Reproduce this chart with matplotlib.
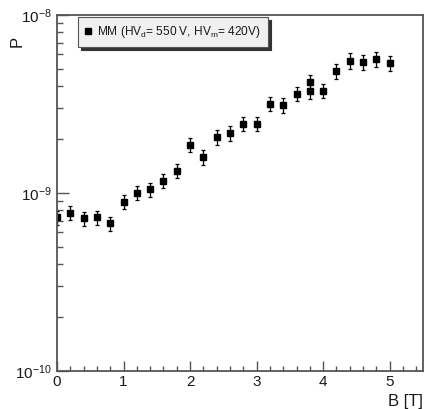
import math
import matplotlib
matplotlib.use("Agg")
import matplotlib.pyplot as plt
from matplotlib.lines import Line2D
from matplotlib.ticker import LogLocator, FuncFormatter, MultipleLocator, NullFormatter

plt.rcParams['font.family'] = ['Liberation Sans', 'DejaVu Sans']
plt.rcParams['mathtext.fontset'] = 'custom'
plt.rcParams['mathtext.rm'] = 'Liberation Sans'
plt.rcParams['mathtext.it'] = 'Liberation Sans'

# data (B in tesla, P probability)
B = [0.0, 0.2, 0.4, 0.6, 0.8, 1.0, 1.2, 1.4, 1.6, 1.8, 2.0, 2.2, 2.4, 2.6, 2.8,
     3.0, 3.2, 3.4, 3.6, 3.8, 3.8, 4.0, 4.2, 4.4, 4.6, 4.8, 5.0]
P = [7.3e-10, 7.75e-10, 7.2e-10, 7.3e-10, 6.75e-10, 8.9e-10, 1.0e-9, 1.05e-9, 1.17e-9,
     1.33e-9, 1.86e-9, 1.59e-9, 2.06e-9, 2.17e-9, 2.45e-9, 2.45e-9, 3.17e-9, 3.12e-9,
     3.61e-9, 4.2e-9, 3.72e-9, 3.76e-9, 4.82e-9, 5.54e-9, 5.42e-9, 5.63e-9, 5.37e-9]
P_err = [0.65e-10, 0.7e-10, 0.65e-10, 0.65e-10, 0.6e-10, 0.8e-10, 0.9e-10, 0.95e-10, 1.05e-10,
         1.2e-10, 1.7e-10, 1.45e-10, 1.9e-10, 2.0e-10, 2.3e-10, 2.3e-10, 3.0e-10, 2.9e-10,
         3.4e-10, 4.0e-10, 3.5e-10, 3.5e-10, 4.6e-10, 5.4e-10, 5.2e-10, 5.4e-10, 5.2e-10]
legend_label = "MM (HV$_{\\mathrm{d}}$= 550 V, HV$_{\\mathrm{m}}$= 420V)"
x_label = "B [T]"
y_label = "P"

fig = plt.figure(figsize=(4.24, 4.09), dpi=100)
ax = fig.add_axes([57/424, 38/409, 366/424, 356/409])

ax.errorbar(B, P, yerr=P_err, fmt='s', color='black', ms=4.3, elinewidth=0.9,
            capsize=1.5, capthick=0.9)

ax.set_yscale('log')
ax.set_xlim(0, 5.5)
ax.set_ylim(1e-10, 1e-8)

ax.xaxis.set_major_locator(MultipleLocator(1))
ax.xaxis.set_minor_locator(MultipleLocator(0.2))
ax.yaxis.set_major_locator(LogLocator(base=10, numticks=5))
ax.yaxis.set_minor_locator(LogLocator(base=10, subs=range(2, 10), numticks=20))
ax.yaxis.set_minor_formatter(NullFormatter())

def yfmt(v, pos):
    e = int(round(math.log10(v)))
    return r"$\mathrm{10}^{\mathrm{%d}}$" % e
ax.yaxis.set_major_formatter(FuncFormatter(yfmt))

spine_col = '#555555'
for s in ax.spines.values():
    s.set_color(spine_col)
    s.set_linewidth(1.3)

ax.tick_params(axis='both', which='both', direction='in', colors=spine_col,
               labelcolor='#1a1a1a', labelsize=11)
ax.tick_params(axis='y', which='major', length=8.5, width=1.0, pad=4)
ax.tick_params(axis='y', which='minor', length=4.3, width=1.0)
ax.tick_params(axis='x', which='major', length=7, width=1.0, pad=3)
ax.tick_params(axis='x', which='minor', length=3.6, width=1.0)

ax.set_xlabel(x_label, fontsize=12, color='#1a1a1a')
ax.xaxis.set_label_coords(1.0, -0.065)
ax.xaxis.label.set_horizontalalignment('right')
ax.set_ylabel(y_label, fontsize=12, color='#1a1a1a', rotation=90)
ax.yaxis.set_label_coords(-0.11, 0.925)
ax.yaxis.label.set_verticalalignment('center')

handle = Line2D([], [], marker='s', ls='none', color='black', ms=4.0)
leg = ax.legend([handle], [legend_label], loc='upper left', bbox_to_anchor=(0.058, 0.994),
                fontsize=8.6, frameon=True, fancybox=False, edgecolor='#555555',
                facecolor='#f0f0f0', framealpha=1,
                shadow={'color': '#333333', 'alpha': 1.0},
                handlelength=0.5, handletextpad=0.5, borderpad=0.6, borderaxespad=0)
leg.get_frame().set_linewidth(0.8)
for t in leg.get_texts():
    t.set_color('#1a1a1a')

fig.savefig('out.png', dpi=100)
